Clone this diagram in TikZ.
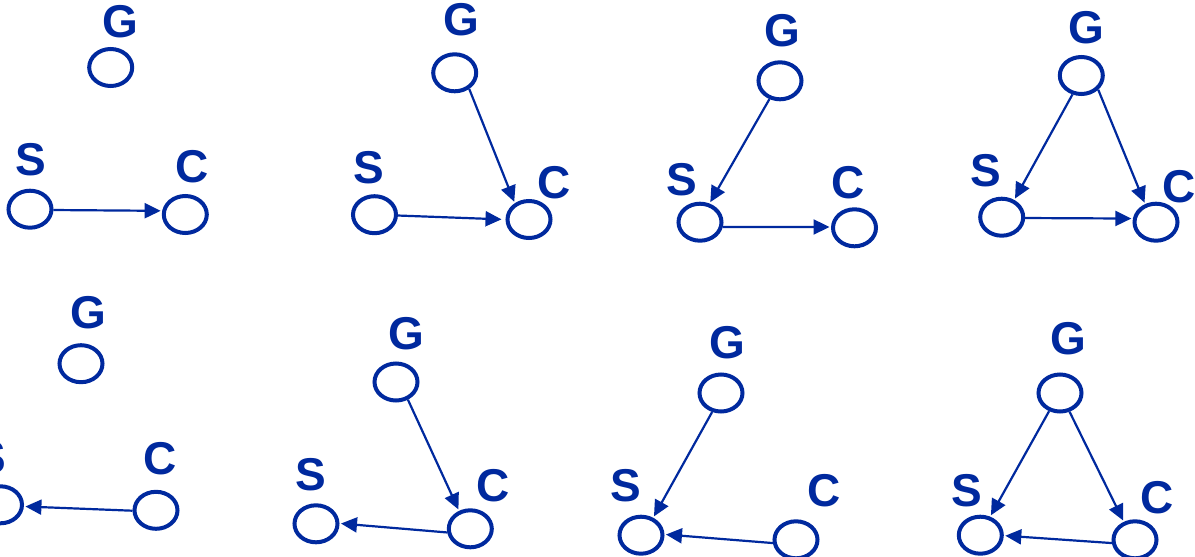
\documentclass[tikz,border=0pt]{standalone}
\usepackage{fontspec}
\setmainfont{Liberation Sans}
\usetikzlibrary{shapes.geometric,arrows.meta}
\definecolor{netblue}{RGB}{0,41,158}
\tikzset{
  var/.style={ellipse, draw=netblue, line width=4pt, minimum width=43pt,
    minimum height=37pt, inner sep=0pt},
  lbl/.style={inner sep=0pt, text=netblue, font=\fontsize{46}{50}\selectfont\bfseries},
  arr/.style={draw=netblue, line width=2.2pt, shorten >=1.5pt,
    -{Triangle[length=16pt,width=15pt]}}
}
\begin{document}
\begin{tikzpicture}[x=1pt,y=-1pt]
\useasboundingbox (0,0) rectangle (1195,557);
\clip (0,0) rectangle (1195,557);

% top row, panel 1: S -> C, G isolated
\node[var] (g1) at (110.7,67.5) {};
\node[var] (s1) at (30,209.2) {};
\node[var] (c1) at (185.3,214.5) {};
\node[lbl] (g1l) at (120.7,21.2) {G};
\node[lbl] (s1l) at (30.5,159.2) {S};
\node[lbl] (c1l) at (191.7,166.3) {C};
\draw[arr] (s1.-2.5) -- (c1.171);

% top row, panel 2: G -> C, S -> C
\node[var] (g2) at (454.7,72.8) {};
\node[var] (s2) at (374.5,214.7) {};
\node[var] (c2) at (529,219.5) {};
\node[lbl] (g2l) at (461.7,19.7) {G};
\node[lbl] (s2l) at (369.2,167.5) {S};
\node[lbl] (c2l) at (553.8,182.5) {C};
\draw[arr] (g2.-48.6) -- (c2.131.6);
\draw[arr, shorten >=4pt] (s2.-2.4) -- (c2.180);

% top row, panel 3: G -> S, S -> C
\node[var] (g3) at (780,80.8) {};
\node[var] (s3) at (700,222.2) {};
\node[var] (c3) at (854.5,227.8) {};
\node[lbl] (g3l) at (782.5,30.7) {G};
\node[lbl] (s3l) at (682.2,180) {S};
\node[lbl] (c3l) at (847.8,183) {C};
\draw[arr] (g3.240.5) -- (s3.63.8);
\draw[arr] (s3.-12.8) -- (c3.178);

% top row, panel 4: G -> S, G -> C, S -> C
\node[var] (g4) at (1081.3,75.5) {};
\node[var] (s4) at (1001.7,217.2) {};
\node[var] (c4) at (1156,222.2) {};
\node[lbl] (g4l) at (1086.7,27.2) {G};
\node[lbl] (s4l) at (985.5,170.8) {S};
\node[lbl] (c4l) at (1179.2,186.7) {C};
\draw[arr] (g4.245) -- (s4.54.9);
\draw[arr] (g4.-40.7) -- (c4.121.8);
\draw[arr] (s4.-2.7) -- (c4.171.5);

% bottom row, panel 5: C -> S, G isolated
\node[var] (g5) at (81,363.7) {};
\node[var] (s5) at (0.5,504.8) {};
\node[var] (c5) at (156,510.3) {};
\node[lbl] (g5l) at (88.8,312.2) {G};
\node[lbl] (s5l) at (-9.5,457.5) {S};
\node[lbl] (c5l) at (160,458.3) {C};
\draw[arr] (c5.181) -- (s5.-4.6);

% bottom row, panel 6: G -> C, C -> S
\node[var] (g6) at (396,382) {};
\node[var] (s6) at (316,523.8) {};
\node[var] (c6) at (470.3,528.8) {};
\node[lbl] (g6l) at (406.3,333.7) {G};
\node[lbl] (s6l) at (310.5,474.2) {S};
\node[lbl] (c6l) at (493.3,485.5) {C};
\draw[arr] (g6.-56.7) -- (c6.122.5);
\draw[arr] (c6.189.6) -- (s6.1.2);

% bottom row, panel 7: G -> S, C -> S
\node[var] (g7) at (721,393) {};
\node[var] (s7) at (641,535.2) {};
\node[var] (c7) at (796,539.8) {};
\node[lbl] (g7l) at (727,342.2) {G};
\node[lbl] (s7l) at (625.5,485.5) {S};
\node[lbl] (c7l) at (824.2,490.5) {C};
\draw[arr] (g7.245.4) -- (s7.55.9);
\draw[arr] (c7.188.5) -- (s7.2.9);

% bottom row, panel 8: G -> S, G -> C, C -> S
\node[var] (g8) at (1060,393) {};
\node[var] (s8) at (980.3,535.2) {};
\node[var] (c8) at (1135,539.8) {};
\node[lbl] (g8l) at (1068.3,338.8) {G};
\node[lbl] (s8l) at (966.8,490.8) {S};
\node[lbl] (c8l) at (1157.5,497.5) {C};
\draw[arr] (g8.239.6) -- (s8.62.8);
\draw[arr] (g8.-63.8) -- (c8.122.8);
\draw[arr] (c8.188.5) -- (s8.-1.9);
\end{tikzpicture}
\end{document}
